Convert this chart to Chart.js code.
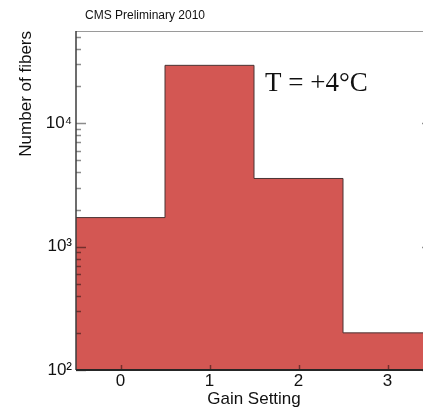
<!DOCTYPE html>
<html>
<head>
<meta charset="utf-8">
<script src="https://cdn.jsdelivr.net/npm/chart.js@4/dist/chart.umd.min.js"></script>
<style>
  html, body { margin: 0; padding: 0; background: #fff; overflow: hidden; }
  #wrap { position: absolute; left: 0; top: 0; }
</style>
</head>
<body>
<div id="wrap"><canvas id="chart" width="440" height="410"></canvas></div>
<script>
// ----- Data -----
const binCenters = [0, 1, 2, 3];
const fiberCounts = [1720, 29500, 3570, 200];
const xTickLabels = ["0", "1", "2", "3"];
const yDecadeLabels = ["10\u00b2", "10\u00b3", "10\u2074"]; // 100, 1000, 10000

const SANS = '"Liberation Sans", Arial, Helvetica, sans-serif';
const SERIF = '"Liberation Serif", "Times New Roman", serif';

// histogram outline: one point per lower bin edge, plus the last upper edge
const steps = binCenters.map((c, i) => ({ x: c - 0.5, y: fiberCounts[i] }));
steps.push({ x: binCenters[binCenters.length - 1] + 0.5, y: fiberCounts[fiberCounts.length - 1] });

function decadeLabel(v) {
  const lg = Math.log10(v);
  if (Math.abs(lg - Math.round(lg)) > 1e-9) return "";
  return yDecadeLabels[Math.round(lg) - 2] || "";
}

// frame, inward tick marks, and the text labels
const framePlugin = {
  id: "frame",
  afterDatasetsDraw(chart) {
    const { ctx, chartArea: a, scales: { x, y } } = chart;
    ctx.save();

    // top frame line
    ctx.strokeStyle = "#9a9a9a";
    ctx.lineWidth = 1;
    ctx.beginPath();
    ctx.moveTo(a.left, a.top + 0.5);
    ctx.lineTo(a.right, a.top + 0.5);
    ctx.stroke();

    // y ticks (left and right), pointing inward
    ctx.strokeStyle = "rgba(0,0,0,0.45)";
    ctx.lineWidth = 1.5;
    y.ticks.forEach(t => {
      const v = t.value;
      const sig = v / Math.pow(10, Math.floor(Math.log10(v) + 1e-9));
      if (Math.abs(sig - Math.round(sig)) > 1e-6) return;
      const len = Math.round(sig) === 1 ? 10 : 5;
      const py = Math.round(y.getPixelForValue(v)) + 0.5;
      ctx.beginPath();
      ctx.moveTo(a.left, py);
      ctx.lineTo(a.left + len, py);
      ctx.moveTo(a.right, py);
      ctx.lineTo(a.right - len, py);
      ctx.stroke();
    });

    // x ticks
    x.ticks.forEach(t => {
      const px = Math.round(x.getPixelForValue(t.value)) + 0.5;
      ctx.beginPath();
      ctx.moveTo(px, a.bottom);
      ctx.lineTo(px, a.bottom - 5);
      ctx.stroke();
    });

    // axis lines
    ctx.strokeStyle = "#3c3c3c";
    ctx.lineWidth = 1.5;
    ctx.beginPath();
    ctx.moveTo(a.left, a.top);
    ctx.lineTo(a.left, a.bottom);
    ctx.stroke();
    ctx.strokeStyle = "#262626";
    ctx.lineWidth = 2;
    ctx.beginPath();
    ctx.moveTo(a.left, a.bottom);
    ctx.lineTo(a.right, a.bottom);
    ctx.stroke();

    // texts
    ctx.fillStyle = "#111";
    ctx.textBaseline = "middle";
    ctx.textAlign = "left";
    ctx.font = "12px " + SANS;
    ctx.fillText("CMS Preliminary 2010", 85, 16);

    ctx.textBaseline = "alphabetic";
    ctx.font = "27px " + SERIF;
    ctx.fillText("T = +4\u00b0C", 265, 91);
    ctx.restore();
  }
};

new Chart(document.getElementById("chart"), {
  type: "line",
  data: {
    datasets: [{
      data: steps,
      stepped: "before",
      fill: "start",
      backgroundColor: "#d35753",
      borderColor: "#4a3535",
      borderWidth: 1,
      pointRadius: 0
    }]
  },
  options: {
    responsive: false,
    animation: false,
    devicePixelRatio: 1,
    layout: { padding: { top: 31, right: 8, left: 0, bottom: 0 } },
    plugins: { legend: { display: false }, tooltip: { enabled: false } },
    scales: {
      x: {
        type: "linear",
        min: -0.5,
        max: 3.5,
        grid: { display: false, drawTicks: false, tickLength: 0 },
        border: { display: false },
        afterBuildTicks: s => { s.ticks = binCenters.map(v => ({ value: v })); },
        ticks: {
          autoSkip: false,
          maxRotation: 0,
          padding: 1,
          color: "#111",
          font: { size: 17, family: SANS },
          callback: v => {
            const i = binCenters.indexOf(v);
            return i >= 0 ? xTickLabels[i] : "";
          }
        },
        title: {
          display: true,
          text: "Gain Setting",
          color: "#111",
          font: { size: 17, family: SANS },
          padding: { top: 0, bottom: 0 }
        },
        afterFit: s => { s.height = 40; }
      },
      y: {
        type: "logarithmic",
        min: 100,
        max: 56000,
        grid: { display: false, drawTicks: false, tickLength: 0 },
        border: { display: false },
        ticks: {
          autoSkip: false,
          padding: 4,
          color: "#111",
          font: { size: 17, family: SANS },
          callback: v => decadeLabel(v)
        },
        title: {
          display: true,
          text: "Number of fibers",
          align: "end",
          color: "#111",
          font: { size: 17, family: SANS },
          padding: { top: 16, bottom: 0 }
        },
        afterFit: s => { s.width = 76; }
      }
    }
  },
  plugins: [framePlugin]
});
</script>
</body>
</html>
